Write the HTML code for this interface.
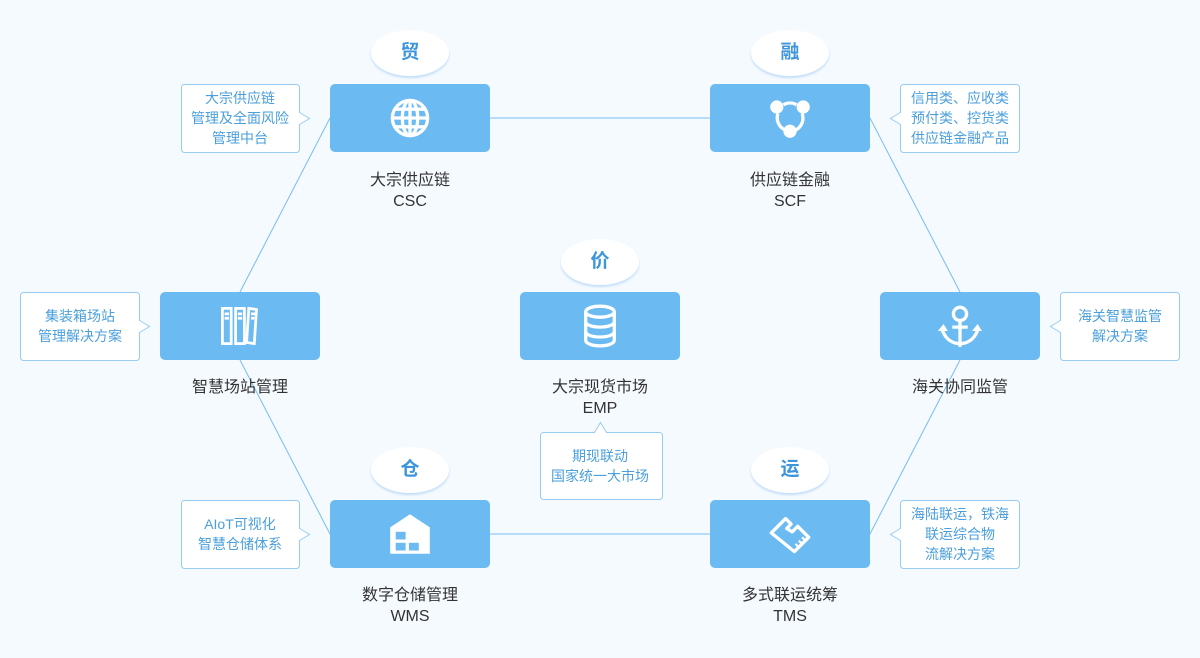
<!DOCTYPE html>
<html><head><meta charset="utf-8"><style>
body{margin:0;width:1200px;height:658px;background:#f5faff;position:relative;overflow:hidden;font-family:"Liberation Sans","Noto Sans CJK SC",sans-serif}
.box{position:absolute;width:160px;height:68px;background:#6bbbf2;border-radius:5px}
.box svg{position:absolute;left:58px;top:12px}
.oval{position:absolute;width:78px;height:46px;border-radius:50%;background:#fff;box-shadow:0 2px 2px rgba(80,160,230,.3);color:#3d95db;font-size:19px;font-weight:bold;text-align:center;line-height:46px}
.lab{position:absolute;width:200px;text-align:center;color:#333;font-size:16px;line-height:21px}
.co{position:absolute;width:120px;text-align:center;color:#4a9fdc;font-size:14px;line-height:20px}
</style></head><body>
<svg width="1200" height="658" style="position:absolute;left:0;top:0">
<g stroke="#76bdf0" stroke-width="1" fill="none">
<line x1="490" y1="118" x2="710" y2="118"/>
<line x1="490" y1="534" x2="710" y2="534"/>
<line x1="330" y1="118" x2="240" y2="292"/>
<line x1="240" y1="360" x2="330" y2="534"/>
<line x1="870" y1="118" x2="960" y2="292"/>
<line x1="960" y1="360" x2="870" y2="534"/>
</g>
<g fill="#fff" stroke="#98cdf2" stroke-width="1">
<path d="M184.5,84.5h112a3,3 0 0 1 3,3v25l10,6l-10,6v25a3,3 0 0 1-3,3h-112a3,3 0 0 1-3-3v-62a3,3 0 0 1 3-3z"/>
<path d="M184.5,500.5h112a3,3 0 0 1 3,3v25l10,6l-10,6v25a3,3 0 0 1-3,3h-112a3,3 0 0 1-3-3v-62a3,3 0 0 1 3-3z"/>
<path d="M23.5,292.5h113a3,3 0 0 1 3,3v25l10,6l-10,6v25a3,3 0 0 1-3,3h-113a3,3 0 0 1-3-3v-62a3,3 0 0 1 3-3z"/>
<path d="M903.5,84.5h113a3,3 0 0 1 3,3v62a3,3 0 0 1-3,3h-113a3,3 0 0 1-3-3v-25l-10-6l10-6v-25a3,3 0 0 1 3-3z"/>
<path d="M903.5,500.5h113a3,3 0 0 1 3,3v62a3,3 0 0 1-3,3h-113a3,3 0 0 1-3-3v-25l-10-6l10-6v-25a3,3 0 0 1 3-3z"/>
<path d="M1063.5,292.5h113a3,3 0 0 1 3,3v62a3,3 0 0 1-3,3h-113a3,3 0 0 1-3-3v-25l-10-6l10-6v-25a3,3 0 0 1 3-3z"/>
<path d="M543.5,432.5h51l6-10l6,10h53a3,3 0 0 1 3,3v61a3,3 0 0 1-3,3h-116a3,3 0 0 1-3-3v-61a3,3 0 0 1 3-3z"/>
</g>
</svg>

<div class="oval" style="left:371px;top:30px">贸</div>
<div class="oval" style="left:751px;top:30px">融</div>
<div class="oval" style="left:561px;top:239px">价</div>
<div class="oval" style="left:371px;top:447px">仓</div>
<div class="oval" style="left:751px;top:447px">运</div>

<div class="box" style="left:330px;top:84px"><svg width="44" height="44" viewBox="0 0 40 40" fill="none" stroke="#fff" stroke-width="3"><circle cx="20" cy="20" r="16"/><ellipse cx="20" cy="20" rx="7" ry="16"/><line x1="20" y1="4" x2="20" y2="36"/><line x1="4" y1="20" x2="36" y2="20"/><line x1="6" y1="12" x2="34" y2="12"/><line x1="6" y1="28" x2="34" y2="28"/></svg></div>
<div class="box" style="left:710px;top:84px"><svg width="44" height="44" viewBox="0 0 40 40" fill="#fff"><path d="M9,16 A12,12 0 0 0 16,31 M25,31 A12,12 0 0 0 31,16 M14,8 A12,12 0 0 1 26,8" stroke="#fff" stroke-width="3" fill="none"/><circle cx="8" cy="10" r="6"/><circle cx="32" cy="10" r="6"/><circle cx="20" cy="32" r="6"/></svg></div>
<div class="box" style="left:160px;top:292px"><svg width="44" height="44" viewBox="0 0 40 40" fill="none" stroke="#fff" stroke-width="2.5"><rect x="4" y="4" width="8" height="32"/><rect x="16" y="4" width="8" height="32"/><path d="M28,4l7,1l-2,31l-7-1z"/><path d="M6,9h4M6,13h4M18,9h4M18,13h4M30,9h4M30,13h3"/></svg></div>
<div class="box" style="left:520px;top:292px"><svg width="44" height="44" viewBox="0 0 40 40" fill="none" stroke="#fff" stroke-width="3"><ellipse cx="20" cy="7" rx="13" ry="5"/><path d="M7,7v26c0,3 6,5 13,5s13-2 13-5V7M7,16c0,3 6,5 13,5s13-2 13-5M7,25c0,3 6,5 13,5s13-2 13-5"/></svg></div>
<div class="box" style="left:880px;top:292px"><svg width="44" height="44" viewBox="0 0 40 40" fill="none" stroke="#fff" stroke-width="3"><circle cx="20" cy="9" r="6"/><path d="M20,15v24M13,21h14M4,24c3,8 9,12 16,12s13-4 16-12"/><path d="M1,24h7l-3-5zM32,24h7l-3-5z" fill="#fff" stroke-width="1"/></svg></div>
<div class="box" style="left:330px;top:500px"><svg width="44" height="44" viewBox="0 0 40 40"><path d="M2,14L20,2L38,14V38H2Z" fill="#fff"/><rect x="7" y="18" width="9" height="7" fill="#6bbbf2"/><rect x="7" y="28" width="9" height="7" fill="#6bbbf2"/><rect x="19" y="28" width="9" height="7" fill="#6bbbf2"/></svg></div>
<div class="box" style="left:710px;top:500px"><svg width="44" height="44" viewBox="0 0 40 40" fill="none" stroke="#fff" stroke-width="3" stroke-linejoin="round"><path d="M3,19L16,6L21,11L17,15L22,18L27,13L37,23L24,36Z"/><path d="M27,31l-2-2M30,28l-2-2M33,25l-2-2" stroke-width="2"/></svg></div>

<div class="lab" style="left:310px;top:170px">大宗供应链<br>CSC</div>
<div class="lab" style="left:690px;top:170px">供应链金融<br>SCF</div>
<div class="lab" style="left:140px;top:377px">智慧场站管理</div>
<div class="lab" style="left:500px;top:377px">大宗现货市场<br>EMP</div>
<div class="lab" style="left:860px;top:377px">海关协同监管</div>
<div class="lab" style="left:310px;top:585px">数字仓储管理<br>WMS</div>
<div class="lab" style="left:690px;top:585px">多式联运统筹<br>TMS</div>

<div class="co" style="left:180px;top:88px">大宗供应链<br>管理及全面风险<br>管理中台</div>
<div class="co" style="left:900px;top:88px">信用类、应收类<br>预付类、控货类<br>供应链金融产品</div>
<div class="co" style="left:20px;top:306px">集装箱场站<br>管理解决方案</div>
<div class="co" style="left:1060px;top:306px">海关智慧监管<br>解决方案</div>
<div class="co" style="left:540px;top:446px">期现联动<br>国家统一大市场</div>
<div class="co" style="left:180px;top:514px">AIoT可视化<br>智慧仓储体系</div>
<div class="co" style="left:900px;top:504px">海陆联运，铁海<br>联运综合物<br>流解决方案</div>
</body></html>
